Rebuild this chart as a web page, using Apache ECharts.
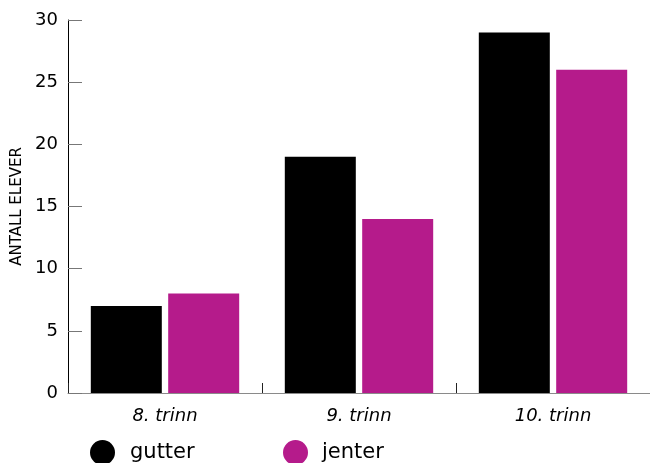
<!DOCTYPE html>
<html>
<head>
<meta charset="utf-8">
<script src="https://cdn.jsdelivr.net/npm/echarts@6/dist/echarts.min.js"></script>
<style>
html,body{margin:0;padding:0;background:#fff;}
#chart{width:650px;height:463px;}
</style>
</head>
<body>
<div id="chart"></div>
<script>
const categories = ['8. trinn', '9. trinn', '10. trinn'];
const gutter = [7, 19, 29];
const jenter = [8, 14, 26];
const seriesNames = ['gutter', 'jenter'];
const yTicks = { min: 0, max: 30, interval: 5 };
const yTitle = 'ANTALL ELEVER';

const FONT = 'DejaVu Sans';
const chart = echarts.init(document.getElementById('chart'), null, { renderer: 'canvas' });
chart.setOption({
  animation: false,
  backgroundColor: '#fff',
  textStyle: { fontFamily: FONT },
  grid: { left: 68, top: 20, width: 585, height: 373, containLabel: false },
  legend: [
    {
      data: [seriesNames[0]], left: 90, top: 440, padding: 0, icon: 'circle',
      itemWidth: 25, itemHeight: 25,
      textStyle: { fontFamily: FONT, fontSize: 21, color: '#000', padding: [0, 0, 0, 10] }
    },
    {
      data: [seriesNames[1]], left: 283, top: 440, padding: 0, icon: 'circle',
      itemWidth: 25, itemHeight: 25,
      textStyle: { fontFamily: FONT, fontSize: 21, color: '#000', padding: [0, 0, 0, 9] }
    }
  ],
  xAxis: {
    type: 'category',
    data: categories,
    axisLine: { show: true, lineStyle: { color: '#8a8a8a', width: 1 } },
    axisTick: { show: true, interval: 0, inside: true, length: 10, lineStyle: { color: '#222', width: 1 } },
    axisLabel: { fontFamily: FONT, fontStyle: 'italic', fontSize: 18, color: '#000', margin: 14 }
  },
  yAxis: {
    type: 'value',
    min: yTicks.min, max: yTicks.max, interval: yTicks.interval,
    name: yTitle,
    nameLocation: 'middle',
    nameGap: 42,
    nameTextStyle: { fontFamily: FONT, fontSize: 15, color: '#000' },
    axisLine: { show: true, lineStyle: { color: '#000', width: 1 } },
    axisTick: { show: true, inside: true, length: 14, lineStyle: { color: '#777' } },
    axisLabel: { fontFamily: FONT, fontSize: 18, color: '#000', margin: 10 },
    splitLine: { show: false }
  },
  series: [
    { name: seriesNames[0], type: 'bar', data: gutter, barWidth: 71, barGap: '9%', itemStyle: { color: '#000000' } },
    { name: seriesNames[1], type: 'bar', data: jenter, barWidth: 71, barGap: '9%', itemStyle: { color: '#b51b8b' } }
  ]
});
</script>
</body>
</html>
